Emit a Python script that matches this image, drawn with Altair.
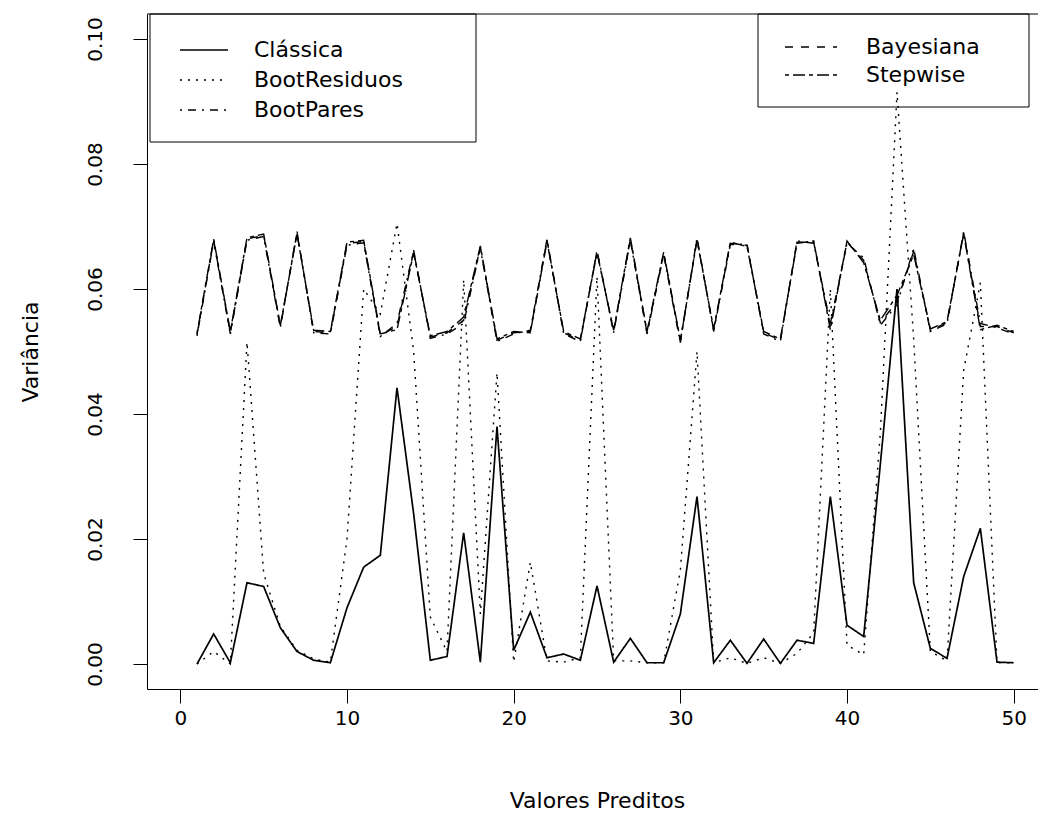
import altair as alt
import pandas as pd

# ---------------- data ----------------
x_vals = list(range(1, 51))

classica = [0.0000, 0.0048, 0.0002, 0.0130, 0.0124, 0.0058, 0.0020, 0.0006, 0.0002, 0.0090,
            0.0155, 0.0174, 0.0442, 0.0240, 0.0006, 0.0012, 0.0210, 0.0003, 0.0380, 0.0022,
            0.0083, 0.0010, 0.0016, 0.0006, 0.0125, 0.0003, 0.0041, 0.0002, 0.0002, 0.0080,
            0.0268, 0.0002, 0.0038, 0.0001, 0.0040, 0.0001, 0.0038, 0.0033, 0.0268, 0.0062,
            0.0044, 0.0320, 0.0600, 0.0130, 0.0025, 0.0009, 0.0140, 0.0217, 0.0003, 0.0002]

boot_residuos = [0.0000, 0.0020, 0.0000, 0.0515, 0.0145, 0.0060, 0.0022, 0.0008, 0.0003, 0.0200,
                 0.0600, 0.0560, 0.0705, 0.0500, 0.0075, 0.0020, 0.0615, 0.0080, 0.0466, 0.0003,
                 0.0163, 0.0005, 0.0003, 0.0010, 0.0620, 0.0005, 0.0005, 0.0002, 0.0002, 0.0150,
                 0.0500, 0.0002, 0.0010, 0.0001, 0.0010, 0.0001, 0.0017, 0.0050, 0.0600, 0.0030,
                 0.0015, 0.0370, 0.0915, 0.0520, 0.0020, 0.0005, 0.0470, 0.0610, 0.0002, 0.0002]

boot_pares = [0.0525, 0.0676, 0.0528, 0.0678, 0.0684, 0.0538, 0.0692, 0.0530, 0.0528, 0.0670,
              0.0674, 0.0524, 0.0545, 0.0662, 0.0521, 0.0528, 0.0545, 0.0665, 0.0516, 0.0528,
              0.0534, 0.0680, 0.0528, 0.0516, 0.0662, 0.0530, 0.0678, 0.0528, 0.0655, 0.0514,
              0.0682, 0.0532, 0.0671, 0.0672, 0.0528, 0.0516, 0.0677, 0.0673, 0.0545, 0.0673,
              0.0650, 0.0542, 0.0575, 0.0665, 0.0532, 0.0544, 0.0692, 0.0545, 0.0538, 0.0528]

bayesiana = [0.0527, 0.0678, 0.0530, 0.0680, 0.0686, 0.0540, 0.0690, 0.0532, 0.0530, 0.0673,
             0.0676, 0.0526, 0.0540, 0.0660, 0.0523, 0.0530, 0.0550, 0.0667, 0.0518, 0.0530,
             0.0532, 0.0678, 0.0530, 0.0518, 0.0660, 0.0532, 0.0680, 0.0530, 0.0657, 0.0516,
             0.0680, 0.0534, 0.0673, 0.0670, 0.0530, 0.0518, 0.0675, 0.0675, 0.0540, 0.0675,
             0.0646, 0.0546, 0.0580, 0.0660, 0.0534, 0.0546, 0.0690, 0.0540, 0.0540, 0.0530]

stepwise = [0.0529, 0.0680, 0.0532, 0.0682, 0.0688, 0.0542, 0.0688, 0.0534, 0.0532, 0.0675,
            0.0678, 0.0528, 0.0535, 0.0658, 0.0525, 0.0532, 0.0555, 0.0669, 0.0520, 0.0532,
            0.0530, 0.0676, 0.0532, 0.0520, 0.0658, 0.0534, 0.0682, 0.0532, 0.0659, 0.0518,
            0.0678, 0.0536, 0.0675, 0.0668, 0.0532, 0.0520, 0.0673, 0.0677, 0.0535, 0.0677,
            0.0642, 0.0550, 0.0590, 0.0655, 0.0536, 0.0548, 0.0688, 0.0535, 0.0542, 0.0532]

series_names = ["Clássica", "BootResiduos", "BootPares", "Bayesiana", "Stepwise"]
series_values = [classica, boot_residuos, boot_pares, bayesiana, stepwise]
dash_patterns = [[1, 0], [2, 6], [2, 6, 8, 6], [8, 8], [4, 4, 12, 4]]
stroke_widths = [1.7, 1.4, 1.4, 1.4, 1.4]

x_ticks = [0, 10, 20, 30, 40, 50]
y_ticks = [0.00, 0.02, 0.04, 0.06, 0.08, 0.10]

# ---------------- layout ----------------
FONT = "DejaVu Sans"
W, H = 891, 675
PAD_L, PAD_T = 147, 14

rows = []
for name, vals, sw in zip(series_names, series_values, stroke_widths):
    for xv, yv in zip(x_vals, vals):
        rows.append({"x": xv, "y": yv, "serie": name, "sw": sw})
df = pd.DataFrame(rows)

x_scale = alt.Scale(domain=[-2, -2 + W / 16.667], nice=False, zero=False)
y_scale = alt.Scale(domain=[-0.004, 0.104], nice=False, zero=False)

lines = alt.Chart(df).mark_line(color="black").encode(
    x=alt.X("x:Q", scale=x_scale,
            axis=alt.Axis(values=x_ticks, title="Valores Preditos", format="d",
                          grid=False, domainColor="black", tickColor="black",
                          tickSize=14, labelPadding=5, labelFontSize=20, labelFont=FONT,
                          labelColor="black", titleFont=FONT, titleFontSize=22,
                          titleFontWeight="normal", titleColor="black",
                          titleX=450, titleY=111, titleBaseline="middle",
                          labelFlush=False)),
    y=alt.Y("y:Q", scale=y_scale,
            axis=alt.Axis(values=y_ticks, title="Variância", format=".2f",
                          grid=False, domainColor="black", tickColor="black",
                          tickSize=14, labelPadding=32, labelFontSize=20, labelFont=FONT,
                          labelColor="black", labelAngle=270, labelAlign="center",
                          labelBaseline="alphabetic",
                          titleFont=FONT, titleFontSize=22, titleFontWeight="normal",
                          titleColor="black", titleX=-117, titleY=H / 2,
                          titleBaseline="middle", labelFlush=False)),
    strokeDash=alt.StrokeDash("serie:N",
                              scale=alt.Scale(domain=series_names, range=dash_patterns),
                              legend=None),
    strokeWidth=alt.StrokeWidth("sw:Q", scale=None, legend=None),
    detail="serie:N",
)

layers = [lines]

# top frame line
layers.append(alt.Chart(pd.DataFrame({"a": [0]})).mark_rule(color="black", strokeWidth=1).encode(
    x=alt.value(0), x2=alt.value(W), y=alt.value(0)))

# legend boxes
for (x0, x1, y0, y1) in [(3, 329, 0, 128), (611, 882, 0, 93)]:
    layers.append(alt.Chart(pd.DataFrame({"a": [0]})).mark_rect(
        fill=None, fillOpacity=0, stroke="black", strokeWidth=1).encode(
        x=alt.value(x0), x2=alt.value(x1), y=alt.value(y0), y2=alt.value(y1)))

# legend entries: (name, dash, line x0, line x1, text x, y)
legend_rows = [
    ("Clássica", dash_patterns[0], 33, 81, 107, 36),
    ("BootResiduos", dash_patterns[1], 33, 81, 107, 66),
    ("BootPares", dash_patterns[2], 33, 81, 107, 96),
    ("Bayesiana", dash_patterns[3], 638, 690, 719, 33),
    ("Stepwise", dash_patterns[4], 638, 690, 719, 61),
]
for name, dash, lx0, lx1, tx, ty in legend_rows:
    layers.append(alt.Chart(pd.DataFrame({"a": [0]})).mark_rule(
        color="black", strokeWidth=1.3, strokeDash=dash).encode(
        x=alt.value(lx0), x2=alt.value(lx1), y=alt.value(ty)))
    layers.append(alt.Chart(pd.DataFrame({"t": [name]})).mark_text(
        font=FONT, fontSize=22, align="left", baseline="middle", color="black").encode(
        text="t:N", x=alt.value(tx), y=alt.value(ty)))

chart = alt.layer(*layers).properties(
    width=W, height=H,
    autosize=alt.AutoSizeParams(type="none"),
    padding={"left": PAD_L, "top": PAD_T, "right": 0, "bottom": 130},
    background="white",
).configure_view(stroke=None)

chart.save("out.html", embed_options={"renderer": "svg", "actions": False})
